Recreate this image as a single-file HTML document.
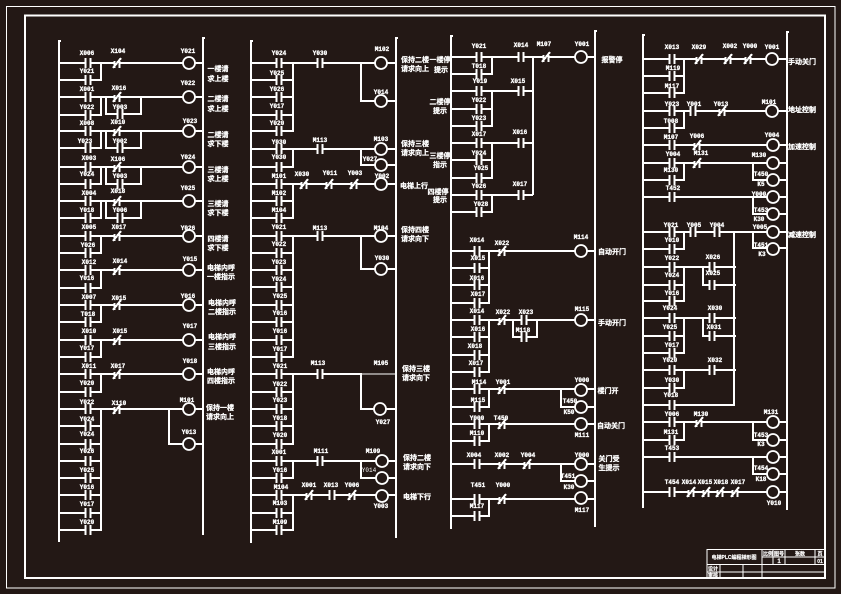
<!DOCTYPE html>
<html><head><meta charset="utf-8"><style>
html,body{margin:0;padding:0;background:#231815;width:841px;height:594px;overflow:hidden}
svg{display:block}
.w{fill:none;stroke:#fff;stroke-width:2;shape-rendering:crispEdges}
.t{font:bold 6px "Liberation Mono",monospace;fill:#fff;text-anchor:middle;stroke:#fff;stroke-width:.3}
.z{font:bold 7px "Liberation Sans","Noto Sans CJK SC",sans-serif;fill:#fff;text-anchor:middle;stroke:#fff;stroke-width:.25}
.s{font:bold 5px "Liberation Sans","Noto Sans CJK SC",sans-serif;fill:#fff;text-anchor:middle;stroke:#fff;stroke-width:.15}
.o{fill:#231815;stroke:#fff;stroke-width:1.8}
</style></head><body>
<svg width="841" height="594" viewBox="0 0 841 594" xmlns="http://www.w3.org/2000/svg">
<defs>
<g id="n"><rect x="-2" y="-2" width="4" height="4" fill="#231815"/><path class="w" d="M-2.5 -5V5M2.5 -5V5"/></g>
<g id="c"><rect x="-2" y="-2" width="4" height="4" fill="#231815"/><path class="w" d="M-2.5 -2V5M2.5 -2V5M-4 5L4 -5"/></g>
</defs>
<rect width="841" height="594" fill="#231815"/>
<rect x="6.5" y="6.5" width="828.5" height="581.5" fill="none" stroke="#fff" stroke-width="1"/>
<rect x="25" y="15.5" width="800" height="562.5" fill="none" stroke="#fff" stroke-width="2"/>

<!-- column 1 -->
<path class="w" d="M61 41H59V542M205 38H203V535
M59 63H203M59 97H203M59 131H203M59 167H203M59 201H203M59 236H203M59 270H203M59 305H203M59 340H203M59 374H203M59 409H203
M59 80H101V63M59 115H101V97M59 148H101V131M59 184H101V167M59 218H101V201M59 253H101V236M59 288H101V270M59 322H101V305M59 357H101V340M59 392H101V374
M106 97V114H141V97M106 131V148H141V131M106 167V184H141V167M106 201V218H141V201
M169 409V444H203M59 426H102M59 444H102M59 461H102M59 478H102M59 495H102M59 513H102M59 530H102M101 409V530"/>
<g>
<use href="#n" x="88" y="63"/><use href="#n" x="88" y="80"/><use href="#n" x="88" y="97"/><use href="#n" x="88" y="115"/><use href="#n" x="88" y="131"/><use href="#n" x="88" y="148"/><use href="#n" x="88" y="167"/><use href="#n" x="88" y="184"/><use href="#n" x="88" y="201"/><use href="#n" x="88" y="218"/><use href="#n" x="88" y="236"/><use href="#n" x="88" y="253"/><use href="#n" x="88" y="270"/><use href="#n" x="88" y="288"/><use href="#n" x="88" y="305"/><use href="#n" x="88" y="322"/><use href="#n" x="88" y="340"/><use href="#n" x="88" y="357"/><use href="#n" x="88" y="374"/><use href="#n" x="88" y="392"/><use href="#n" x="88" y="409"/><use href="#n" x="88" y="426"/><use href="#n" x="88" y="444"/><use href="#n" x="88" y="461"/><use href="#n" x="88" y="478"/><use href="#n" x="88" y="495"/><use href="#n" x="88" y="513"/><use href="#n" x="88" y="530"/>
<use href="#c" x="117" y="63"/><use href="#c" x="117" y="97"/><use href="#c" x="117" y="131"/><use href="#c" x="117" y="167"/><use href="#c" x="117" y="201"/><use href="#c" x="117" y="236"/><use href="#c" x="117" y="270"/><use href="#c" x="117" y="305"/><use href="#c" x="117" y="340"/><use href="#c" x="117" y="374"/><use href="#c" x="117" y="409"/>
<use href="#n" x="120" y="114"/><use href="#n" x="120" y="148"/><use href="#n" x="120" y="184"/><use href="#n" x="120" y="218"/>
</g>
<g class="o"><circle cx="189" cy="63" r="6"/><circle cx="189" cy="97" r="6"/><circle cx="189" cy="131" r="6"/><circle cx="189" cy="167" r="6"/><circle cx="189" cy="201" r="6"/><circle cx="189" cy="236" r="6"/><circle cx="189" cy="270" r="6"/><circle cx="189" cy="305" r="6"/><circle cx="189" cy="340" r="6"/><circle cx="189" cy="374" r="6"/><circle cx="189" cy="409" r="6"/><circle cx="189" cy="444" r="6"/></g>
<g class="t">
<text x="87" y="55">X006</text><text x="118" y="53">X104</text><text x="188" y="53">Y021</text><text x="87" y="73">Y021</text>
<text x="87" y="91">X001</text><text x="119" y="90">X016</text><text x="188" y="85">Y022</text><text x="87" y="109">Y022</text><text x="120" y="109">Y003</text>
<text x="87" y="125">X008</text><text x="118" y="124">X010</text><text x="190" y="123">Y023</text><text x="85" y="143">Y023</text><text x="120" y="143">Y002</text>
<text x="89" y="160">X003</text><text x="118" y="161">X106</text><text x="188" y="159">Y024</text><text x="87" y="176">Y024</text><text x="120" y="178">Y003</text>
<text x="89" y="195">X004</text><text x="118" y="193">X018</text><text x="188" y="190">Y025</text><text x="87" y="212">Y018</text><text x="120" y="212">Y006</text>
<text x="89" y="229">X005</text><text x="119" y="229">X017</text><text x="188" y="230">Y026</text><text x="88" y="247">Y026</text>
<text x="89" y="264">X012</text><text x="120" y="263">X014</text><text x="190" y="261">Y015</text><text x="87" y="280">Y016</text>
<text x="89" y="299">X007</text><text x="119" y="300">X015</text><text x="188" y="298">Y016</text><text x="88" y="316">T018</text>
<text x="89" y="333">X010</text><text x="120" y="333">X015</text><text x="190" y="328">Y017</text><text x="87" y="350">Y017</text>
<text x="89" y="368">X011</text><text x="118" y="368">X017</text><text x="190" y="363">Y018</text><text x="87" y="385">Y020</text>
<text x="87" y="404">Y022</text><text x="119" y="405">X110</text><text x="187" y="402">M101</text><text x="189" y="434">Y013</text>
<text x="87" y="421">Y024</text><text x="87" y="436">Y024</text><text x="87" y="453">Y026</text><text x="87" y="472">Y025</text><text x="87" y="489">Y016</text><text x="87" y="506">Y017</text><text x="87" y="524">Y020</text>
</g>
<g class="z">
<text x="218" y="71">一楼请</text><text x="218" y="81">求上楼</text>
<text x="218" y="101">二楼请</text><text x="218" y="111">求上楼</text>
<text x="218" y="137">二楼请</text><text x="218" y="146">求下楼</text>
<text x="218" y="172">三楼请</text><text x="218" y="181">求上楼</text>
<text x="218" y="206">三楼请</text><text x="218" y="215">求下楼</text>
<text x="218" y="241">四楼请</text><text x="218" y="250">求下楼</text>
<text x="221" y="270">电梯内呼</text><text x="221" y="279">一楼指示</text>
<text x="222" y="305">电梯内呼</text><text x="222" y="314">二楼指示</text>
<text x="222" y="339">电梯内呼</text><text x="222" y="349">三楼指示</text>
<text x="221" y="374">电梯内呼</text><text x="221" y="383">四楼指示</text>
<text x="220" y="410">保持一楼</text><text x="220" y="419">请求向上</text>
</g>

<!-- column 2 -->
<path class="w" d="M253 41H251V543M398 38H396V538
M251 63H396M361 63V101H396M251 80H294M251 97H294M251 115H294M251 131H294M293 63V131
M251 149H396M361 149V165H396M251 167H293V149
M251 184H396M251 201H294M251 218H294M293 184V218
M251 236H396M361 236V269H396M251 253H294M251 270H294M251 287H294M251 305H294M251 322H294M251 340H294M251 357H294M293 236V357
M251 374H362M361 374V409H396M251 392H294M251 409H294M251 426H294M251 444H294M293 374V444
M251 461H396M361 461V478H396M251 478H293V461
M251 495H396M251 513H294M251 530H294M293 495V530"/>
<path d="M361 374H396" stroke="#fff" stroke-width="1" fill="none" shape-rendering="crispEdges"/>
<g>
<use href="#n" x="279" y="63"/><use href="#n" x="279" y="80"/><use href="#n" x="279" y="97"/><use href="#n" x="279" y="115"/><use href="#n" x="279" y="131"/><use href="#n" x="279" y="149"/><use href="#n" x="279" y="167"/><use href="#n" x="279" y="184"/><use href="#n" x="279" y="201"/><use href="#n" x="279" y="218"/><use href="#n" x="279" y="236"/><use href="#n" x="279" y="253"/><use href="#n" x="279" y="270"/><use href="#n" x="279" y="287"/><use href="#n" x="279" y="305"/><use href="#n" x="279" y="322"/><use href="#n" x="279" y="340"/><use href="#n" x="279" y="357"/><use href="#n" x="279" y="374"/><use href="#n" x="279" y="392"/><use href="#n" x="279" y="409"/><use href="#n" x="279" y="426"/><use href="#n" x="279" y="444"/><use href="#n" x="279" y="461"/><use href="#n" x="279" y="478"/><use href="#n" x="279" y="495"/><use href="#n" x="279" y="513"/><use href="#n" x="279" y="530"/>
<use href="#n" x="320" y="63"/><use href="#n" x="320" y="149"/><use href="#n" x="320" y="236"/><use href="#n" x="320" y="374"/><use href="#n" x="320" y="461"/>
<use href="#c" x="304" y="184"/><use href="#c" x="329" y="184"/><use href="#c" x="354" y="184"/>
<use href="#c" x="309" y="495"/><use href="#n" x="332" y="495"/><use href="#c" x="352" y="495"/>
</g>
<g class="o"><circle cx="381" cy="63" r="6"/><circle cx="381" cy="101" r="6"/><circle cx="381" cy="149" r="6"/><circle cx="381" cy="165" r="6"/><circle cx="381" cy="184" r="6"/><circle cx="381" cy="236" r="6"/><circle cx="381" cy="269" r="6"/><circle cx="380" cy="409" r="6"/><circle cx="382" cy="461" r="6"/><circle cx="382" cy="478" r="6"/><circle cx="382" cy="496" r="6"/></g>
<g class="t">
<text x="279" y="55">Y024</text><text x="320" y="55">Y030</text><text x="382" y="51">M102</text><text x="277" y="75">Y025</text><text x="277" y="91">Y026</text><text x="277" y="108">Y017</text><text x="277" y="125">Y020</text><text x="381" y="94">Y014</text>
<text x="279" y="144">Y030</text><text x="320" y="142">M113</text><text x="381" y="141">M103</text><text x="279" y="159">Y030</text><text x="370" y="161">Y027</text>
<text x="279" y="178">M101</text><text x="302" y="176">X030</text><text x="330" y="175">Y011</text><text x="355" y="175">Y003</text><text x="382" y="178">Y002</text><text x="279" y="195">M102</text><text x="279" y="212">M104</text>
<text x="279" y="229">Y021</text><text x="320" y="230">M113</text><text x="381" y="230">M104</text><text x="279" y="246">Y022</text><text x="279" y="264">Y023</text><text x="279" y="281">Y024</text><text x="382" y="260">Y030</text>
<text x="280" y="298">Y025</text><text x="280" y="315">Y016</text><text x="280" y="333">Y016</text><text x="280" y="351">Y017</text>
<text x="280" y="368">Y021</text><text x="318" y="365">M113</text><text x="381" y="365">M105</text><text x="280" y="386">Y022</text><text x="280" y="402">Y023</text><text x="280" y="420">Y018</text><text x="280" y="437">Y020</text><text x="383" y="424">Y027</text>
<text x="279" y="454">X001</text><text x="321" y="453">M111</text><text x="373" y="453">M109</text><text x="280" y="472">Y016</text><text x="369" y="472" style="font-weight:normal;stroke-width:0">Y014</text>
<text x="281" y="489">M104</text><text x="309" y="487">X001</text><text x="331" y="487">X013</text><text x="352" y="487">Y006</text><text x="381" y="508">Y003</text><text x="280" y="505">M103</text><text x="280" y="524">M109</text>
</g>
<g class="z">
<text x="415" y="62">保持二楼</text><text x="440" y="62">一楼停</text><text x="415" y="71">请求向上</text><text x="441" y="72">提示</text>
<text x="440" y="104">二楼停</text><text x="440" y="113">提示</text>
<text x="415" y="146">保持三楼</text><text x="415" y="155">请求向上</text><text x="440" y="158">三楼停</text><text x="440" y="167">指示</text>
<text x="414" y="188">电梯上行</text><text x="438" y="194">四楼停</text><text x="440" y="202">提示</text>
<text x="415" y="232">保持四楼</text><text x="415" y="241">请求向下</text>
<text x="416" y="371">保持三楼</text><text x="416" y="380">请求向下</text>
<text x="417" y="460">保持二楼</text><text x="417" y="469">请求向下</text>
<text x="417" y="499">电梯下行</text>
</g>

<!-- column 3 -->
<path class="w" d="M453 36H451V529M597 31H595V527
M451 57H595M451 74H493M492 57V74
M451 91H533M451 109H493M451 126H493M492 91V126
M451 143H533M451 160H493M451 178H493M492 143V178
M451 195H533M451 212H493M492 195V212M533 57V195
M451 251H595M451 268H490M451 285H490M451 303H490M489 251V303
M451 320H595M513 320V337H537V320M451 337H490M451 355H490M451 372H490M489 320V372
M451 389H595M561 389V407H595M451 407H489V389
M451 424H595M451 441H489V424
M451 464H595M561 464V481H595
M451 499H595M451 516H489V499"/>
<g>
<use href="#n" x="479" y="57"/><use href="#n" x="479" y="74"/><use href="#n" x="479" y="91"/><use href="#n" x="479" y="109"/><use href="#n" x="479" y="126"/><use href="#n" x="479" y="143"/><use href="#n" x="479" y="160"/><use href="#n" x="479" y="178"/><use href="#n" x="479" y="195"/><use href="#n" x="479" y="212"/>
<use href="#n" x="521" y="57"/><use href="#n" x="521" y="91"/><use href="#n" x="521" y="143"/><use href="#n" x="521" y="195"/><use href="#c" x="546" y="57"/>
<use href="#n" x="477" y="251"/><use href="#n" x="477" y="268"/><use href="#n" x="477" y="285"/><use href="#n" x="477" y="303"/><use href="#n" x="477" y="320"/><use href="#n" x="477" y="337"/><use href="#n" x="477" y="355"/><use href="#n" x="477" y="372"/><use href="#n" x="477" y="389"/><use href="#n" x="477" y="407"/><use href="#n" x="477" y="424"/><use href="#n" x="477" y="441"/><use href="#n" x="477" y="464"/><use href="#n" x="477" y="499"/><use href="#n" x="477" y="516"/>
<use href="#c" x="502" y="251"/><use href="#c" x="502" y="320"/><use href="#c" x="502" y="389"/><use href="#c" x="502" y="424"/><use href="#c" x="502" y="464"/><use href="#c" x="502" y="499"/>
<use href="#n" x="524" y="320"/><use href="#n" x="524" y="337"/><use href="#c" x="527" y="464"/>
</g>
<g class="o"><circle cx="581" cy="57" r="6"/><circle cx="581" cy="251" r="6"/><circle cx="581" cy="320" r="6"/><circle cx="581" cy="390" r="6"/><circle cx="581" cy="407" r="6"/><circle cx="581" cy="424" r="6"/><circle cx="581" cy="464" r="6"/><circle cx="581" cy="481" r="6"/><circle cx="581" cy="498" r="6"/></g>
<g class="t">
<text x="479" y="48">Y021</text><text x="521" y="47">X014</text><text x="544" y="46">M107</text><text x="582" y="46">Y001</text><text x="479" y="68">T018</text><text x="480" y="83">Y019</text><text x="518" y="83">X015</text><text x="479" y="102">Y022</text><text x="479" y="120">Y023</text><text x="479" y="136">X017</text><text x="520" y="134">X016</text><text x="479" y="155">Y024</text><text x="481" y="170">Y025</text><text x="479" y="188">Y026</text><text x="520" y="186">X017</text><text x="481" y="206">Y028</text>
<text x="477" y="242">X014</text><text x="502" y="245">X022</text><text x="581" y="239">M114</text><text x="478" y="260">X015</text><text x="477" y="280">X016</text><text x="478" y="296">X017</text>
<text x="477" y="313">X014</text><text x="503" y="314">X022</text><text x="526" y="314">X023</text><text x="523" y="332">M118</text><text x="582" y="311">M115</text><text x="478" y="331">X016</text><text x="475" y="348">X018</text><text x="476" y="365">X017</text>
<text x="479" y="384">M114</text><text x="503" y="384">Y001</text><text x="582" y="382">Y000</text><text x="478" y="402">M115</text><text x="570" y="403">T450</text><text x="569" y="414">K50</text>
<text x="477" y="420">Y000</text><text x="501" y="420">T450</text><text x="477" y="435">M110</text><text x="582" y="437">M111</text>
<text x="474" y="457">X004</text><text x="502" y="457">X002</text><text x="528" y="457">Y004</text><text x="582" y="457">Y000</text><text x="568" y="478">T451</text><text x="569" y="489">K30</text>
<text x="478" y="487">T451</text><text x="503" y="487">Y000</text><text x="477" y="508">M117</text><text x="582" y="512">M117</text>
</g>
<g class="z">
<text x="612" y="62">报警停</text><text x="612" y="254">自动开门</text><text x="612" y="325">手动开门</text><text x="608" y="393">楼门开</text><text x="611" y="428">自动关门</text><text x="609" y="461">关门受</text><text x="609" y="470">生提示</text>
</g>

<!-- column 4 -->
<path class="w" d="M645 35H643V508M789 32H787V510
M643 59H787M643 76H685M643 93H685M684 59V93
M643 111H787M643 128H684V111
M643 145H787
M643 163H787M753 163V180H787M643 180H684V163
M643 197H787M753 197V214H787
M643 232H787M753 232V248H787M643 249H684V232M734 232V405H643
M643 267H736M643 285H685M643 301H685M684 267V301M703 267V285H736
M643 318H736M643 336H685M643 353H685M684 318V353M703 318V336H736
M643 370H736M643 388H684V370
M643 422H787M753 422V440H787M643 440H684V422
M643 457H787M753 457V474H787
M643 492H787"/>
<g>
<use href="#n" x="672" y="59"/><use href="#n" x="672" y="76"/><use href="#n" x="672" y="93"/><use href="#n" x="672" y="111"/><use href="#n" x="672" y="128"/><use href="#n" x="672" y="145"/><use href="#n" x="672" y="163"/><use href="#n" x="672" y="180"/><use href="#n" x="672" y="197"/><use href="#n" x="672" y="232"/><use href="#n" x="672" y="249"/><use href="#n" x="672" y="267"/><use href="#n" x="672" y="285"/><use href="#n" x="672" y="301"/><use href="#n" x="672" y="318"/><use href="#n" x="672" y="336"/><use href="#n" x="672" y="353"/><use href="#n" x="672" y="370"/><use href="#n" x="672" y="388"/><use href="#n" x="672" y="405"/><use href="#n" x="672" y="422"/><use href="#n" x="672" y="440"/><use href="#n" x="672" y="457"/><use href="#n" x="672" y="492"/>
<use href="#c" x="699" y="59"/><use href="#c" x="728" y="59"/><use href="#c" x="748" y="59"/>
<use href="#n" x="693" y="111"/><use href="#c" x="722" y="111"/><use href="#c" x="697" y="145"/><use href="#c" x="697" y="163"/>
<use href="#n" x="693" y="232"/><use href="#n" x="717" y="232"/>
<use href="#n" x="712" y="267"/><use href="#n" x="712" y="285"/><use href="#n" x="712" y="318"/><use href="#n" x="712" y="336"/><use href="#n" x="712" y="370"/>
<use href="#c" x="699" y="422"/><use href="#c" x="691" y="492"/><use href="#c" x="706" y="492"/><use href="#c" x="720" y="492"/><use href="#c" x="735" y="492"/>
</g>
<g class="o"><circle cx="772" cy="59" r="6"/><circle cx="772" cy="111" r="6"/><circle cx="773" cy="145" r="6"/><circle cx="773" cy="163" r="6"/><circle cx="773" cy="180" r="6"/><circle cx="773" cy="197" r="6"/><circle cx="773" cy="214" r="6"/><circle cx="773" cy="232" r="6"/><circle cx="773" cy="249" r="6"/><circle cx="773" cy="422" r="6"/><circle cx="773" cy="440" r="6"/><circle cx="773" cy="457" r="6"/><circle cx="773" cy="474" r="6"/><circle cx="773" cy="492" r="6"/></g>
<g class="t">
<text x="672" y="49">X013</text><text x="699" y="49">X029</text><text x="730" y="48">X002</text><text x="750" y="48">Y000</text><text x="772" y="49">Y001</text><text x="673" y="70">M119</text><text x="672" y="88">M117</text>
<text x="672" y="106">Y023</text><text x="694" y="106">Y001</text><text x="721" y="106">Y013</text><text x="769" y="104">M101</text><text x="671" y="123">T008</text>
<text x="671" y="139">M107</text><text x="697" y="138">Y006</text><text x="772" y="137">Y004</text>
<text x="673" y="156">Y004</text><text x="701" y="155">M131</text><text x="759" y="157">M130</text><text x="671" y="172">M130</text><text x="761" y="176">T450</text><text x="761" y="186">K5</text>
<text x="673" y="190">T452</text><text x="759" y="196">Y000</text><text x="761" y="212">T453</text><text x="759" y="221">K30</text>
<text x="671" y="227">Y021</text><text x="694" y="227">Y005</text><text x="717" y="227">Y004</text><text x="760" y="229">Y005</text><text x="672" y="242">Y010</text><text x="761" y="247">T451</text><text x="762" y="256">K3</text>
<text x="672" y="260">Y022</text><text x="713" y="259">X026</text><text x="713" y="275">X025</text><text x="672" y="277">Y024</text><text x="672" y="295">Y016</text>
<text x="670" y="310">Y024</text><text x="715" y="310">X030</text><text x="670" y="329">Y025</text><text x="714" y="329">X031</text><text x="672" y="347">Y017</text>
<text x="670" y="362">Y020</text><text x="715" y="362">X032</text><text x="672" y="382">Y030</text><text x="671" y="397">Y018</text>
<text x="672" y="416">Y006</text><text x="701" y="416">M130</text><text x="771" y="414">M131</text><text x="671" y="434">M131</text><text x="761" y="437">T453</text><text x="761" y="446">K3</text>
<text x="672" y="450">T453</text><text x="761" y="470">T454</text><text x="761" y="481">K18</text>
<text x="672" y="484">T454</text><text x="689" y="484">X014</text><text x="705" y="484">X015</text><text x="721" y="484">X018</text><text x="738" y="484">X017</text><text x="774" y="505">Y010</text>
</g>
<g class="z">
<text x="802" y="64">手动关门</text><text x="802" y="112">地址控制</text><text x="802" y="149">加速控制</text><text x="802" y="237">减速控制</text>
</g>

<!-- title block -->
<path fill="none" stroke="#fff" stroke-width="1" d="M707 549.5H826M707 549V578M762 549V578M707 564.5H826M707 572H826M762 557H826M773 549V564M785 549V564M815 549V564M720 564V578M743 564V578"/>
<g class="s">
<text x="734" y="559">电梯PLC编程梯形图</text>
<text x="768" y="555.5">比例</text><text x="779" y="555.5">图号</text><text x="800" y="555.5">张数</text><text x="820" y="555.5">页</text>
<text x="779" y="563" style="font-family:'Liberation Sans',sans-serif;font-size:6px">1</text><text x="820" y="563">01</text>
<text x="713" y="570.5">设计</text><text x="713" y="577">审核</text>
</g>
</svg>
</body></html>
